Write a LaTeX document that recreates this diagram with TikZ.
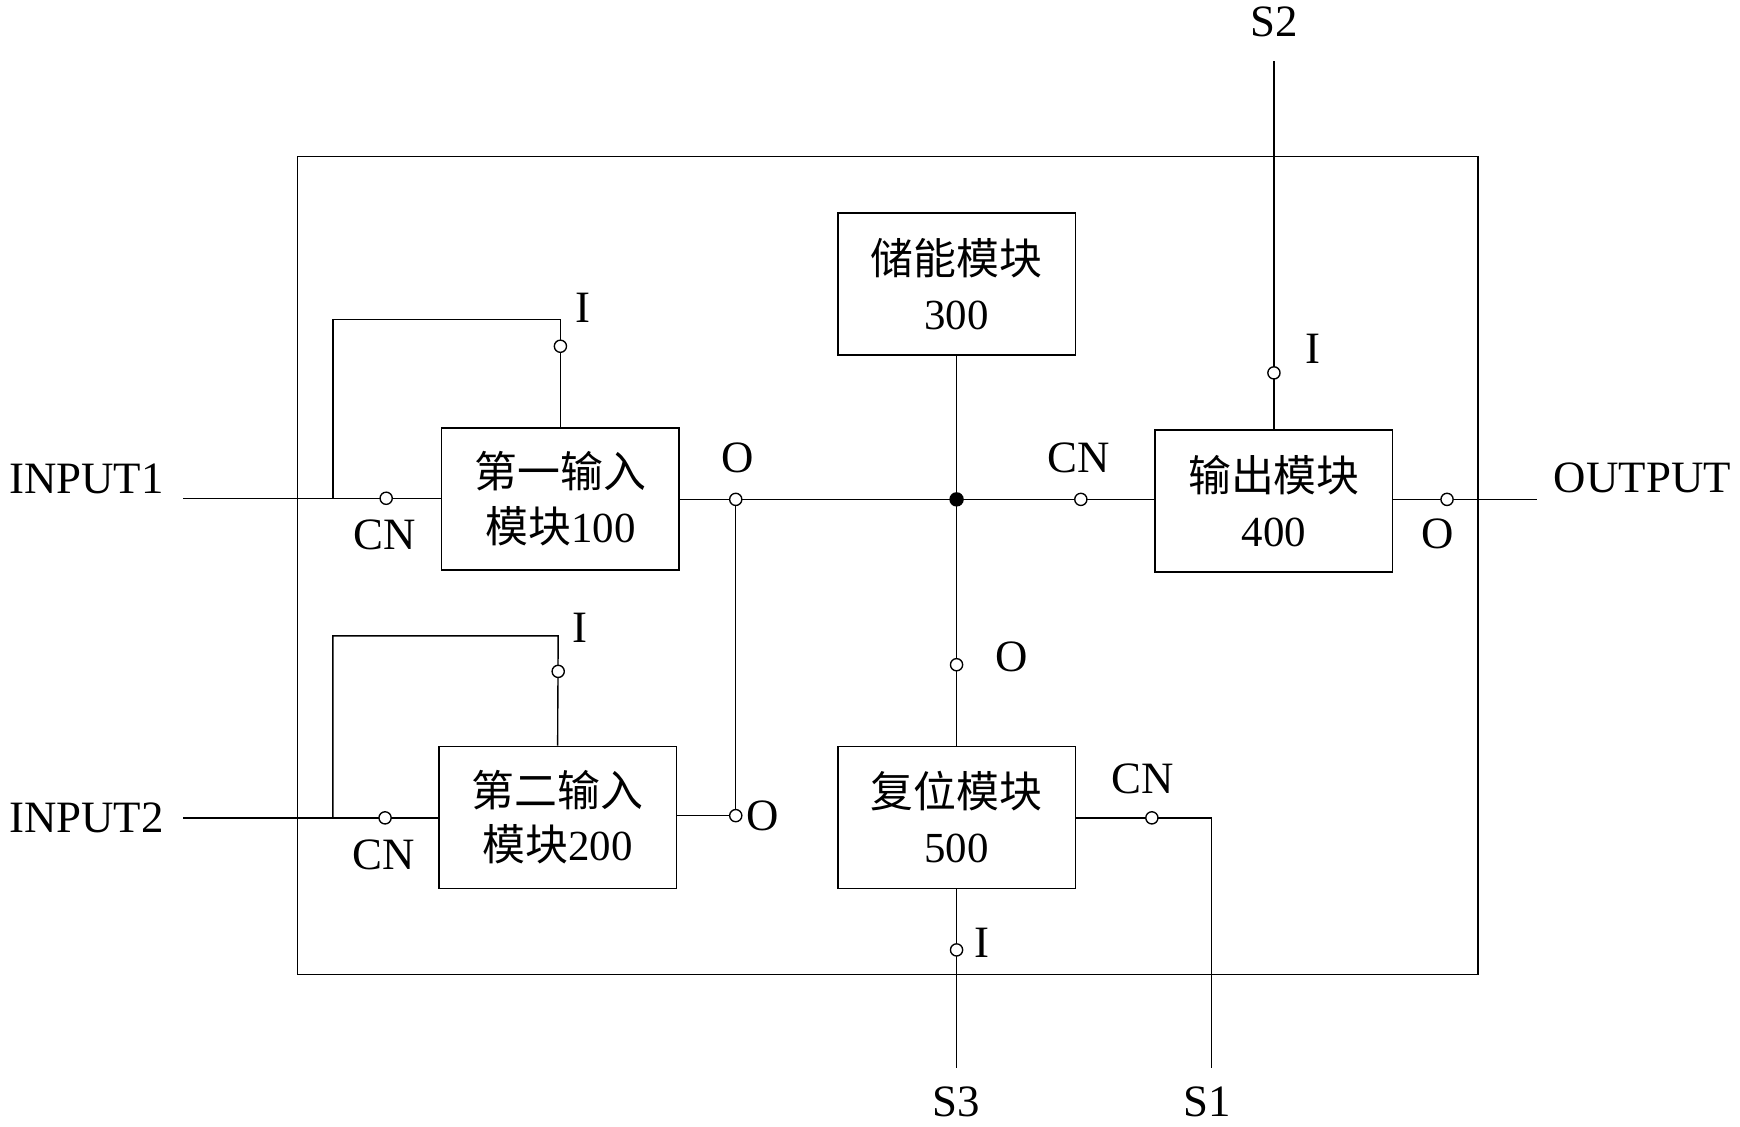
\documentclass[tikz,border=0pt]{standalone}
\usepackage{fontspec}
\setmainfont{Liberation Serif}
\newfontfamily\cjk{Noto Sans CJK SC}
\begin{document}
\begin{tikzpicture}[x=0.02cm,y=-0.02cm,
  blk/.style={draw,line width=0.8pt,minimum width=4.28cm,minimum height=2.56cm,align=center,font=\fontsize{22}{28}\selectfont,inner sep=0pt},
  pin/.style={circle,draw,fill=white,inner sep=0pt,minimum size=0.22cm,line width=0.7pt},
  lbl/.style={font=\fontsize{23}{26}\selectfont,inner sep=0pt},
  every path/.style={line width=0.7pt}]
\useasboundingbox (0,0) rectangle (1568,1015);
\draw (268,141) rectangle (1332,878);
\node[blk] (m100) at (505,449.5) {{\cjk 第一输入}\\{\cjk 模块}100};
\node[blk] (m200) at (502.5,736.5) {{\cjk 第二输入}\\{\cjk 模块}200};
\node[blk] (m300) at (862,256) {{\cjk 储能模块}\\300};
\node[blk] (m400) at (1148,451.5) {{\cjk 输出模块}\\400};
\node[blk] (m500) at (862,736.5) {{\cjk 复位模块}\\500};
% coordinates
\coordinate (in1) at (165,449); \coordinate (in2) at (165,737);
\coordinate (l1) at (300,449); \coordinate (l1t) at (300,288); \coordinate (l1r) at (505,288);
\coordinate (l2) at (300,737); \coordinate (l2t) at (300,573); \coordinate (l2r) at (503,573);
\coordinate (j) at (862,450); \coordinate (oc) at (663,450); \coordinate (oc2) at (663,735);
\coordinate (s2) at (1148,55); \coordinate (out) at (1385,450);
\coordinate (s1t) at (1092,737); \coordinate (s1) at (1092,962); \coordinate (s3) at (862,962);
% wires
\draw (in1) -- (m100.west|-in1);
\draw (l1) -- (l1t) -- (l1r) -- (m100.north);
\draw (in2) -- (m200.west|-in2);
\draw (l2) -- (l2t) -- (l2r) -- (m200.north);
\draw (m100.east|-oc) -- (m400.west|-oc);
\draw (m300.south) -- (m500.north);
\draw (oc) -- (oc2) -- (m200.east|-oc2);
\draw (s2) -- (m400.north);
\draw (m400.east|-out) -- (out);
\draw (m500.east|-s1t) -- (s1t) -- (s1);
\draw (m500.south) -- (s3);
\fill (j) circle (0.13cm);
% pins
\node[pin] (p1) at (348,449) {}; \node[pin] (p1i) at (505,312) {};
\node[pin] (p2) at (347,737) {}; \node[pin] (p2i) at (503,605) {};
\node[pin] (po) at (oc) {}; \node[pin] (po2) at (oc2) {};
\node[pin] (pcn) at (974,450) {}; \node[pin] (p4i) at (1148,336) {};
\node[pin] (p4o) at (1304,450) {}; \node[pin] (p5o) at (862,599) {};
\node[pin] (p5cn) at (1038,737) {}; \node[pin] (p5i) at (862,856) {};
% labels
\node[lbl] (t1) at (78,432) {INPUT1}; \node[lbl] (t2) at (78,737) {INPUT2};
\node[lbl] (t3) at (1480,431) {OUTPUT}; \node[lbl] (t4) at (1148,20) {S2};
\node[lbl] (t5) at (1088,993) {S1}; \node[lbl] (t6) at (862,993) {S3};
\node[lbl] (a1) at (347,482) {CN}; \node[lbl] (a2) at (525,277) {I};
\node[lbl] (a3) at (346,770) {CN}; \node[lbl] (a4) at (523,566) {I};
\node[lbl] (a5) at (665,413) {O}; \node[lbl] (a6) at (687,735) {O};
\node[lbl] (a7) at (972,413) {CN}; \node[lbl] (a8) at (1183,314) {I};
\node[lbl] (a9) at (1296,481) {O}; \node[lbl] (a10) at (912,592) {O};
\node[lbl] (a11) at (1030,702) {CN}; \node[lbl] (a12) at (885,850) {I};
\end{tikzpicture}
\end{document}
